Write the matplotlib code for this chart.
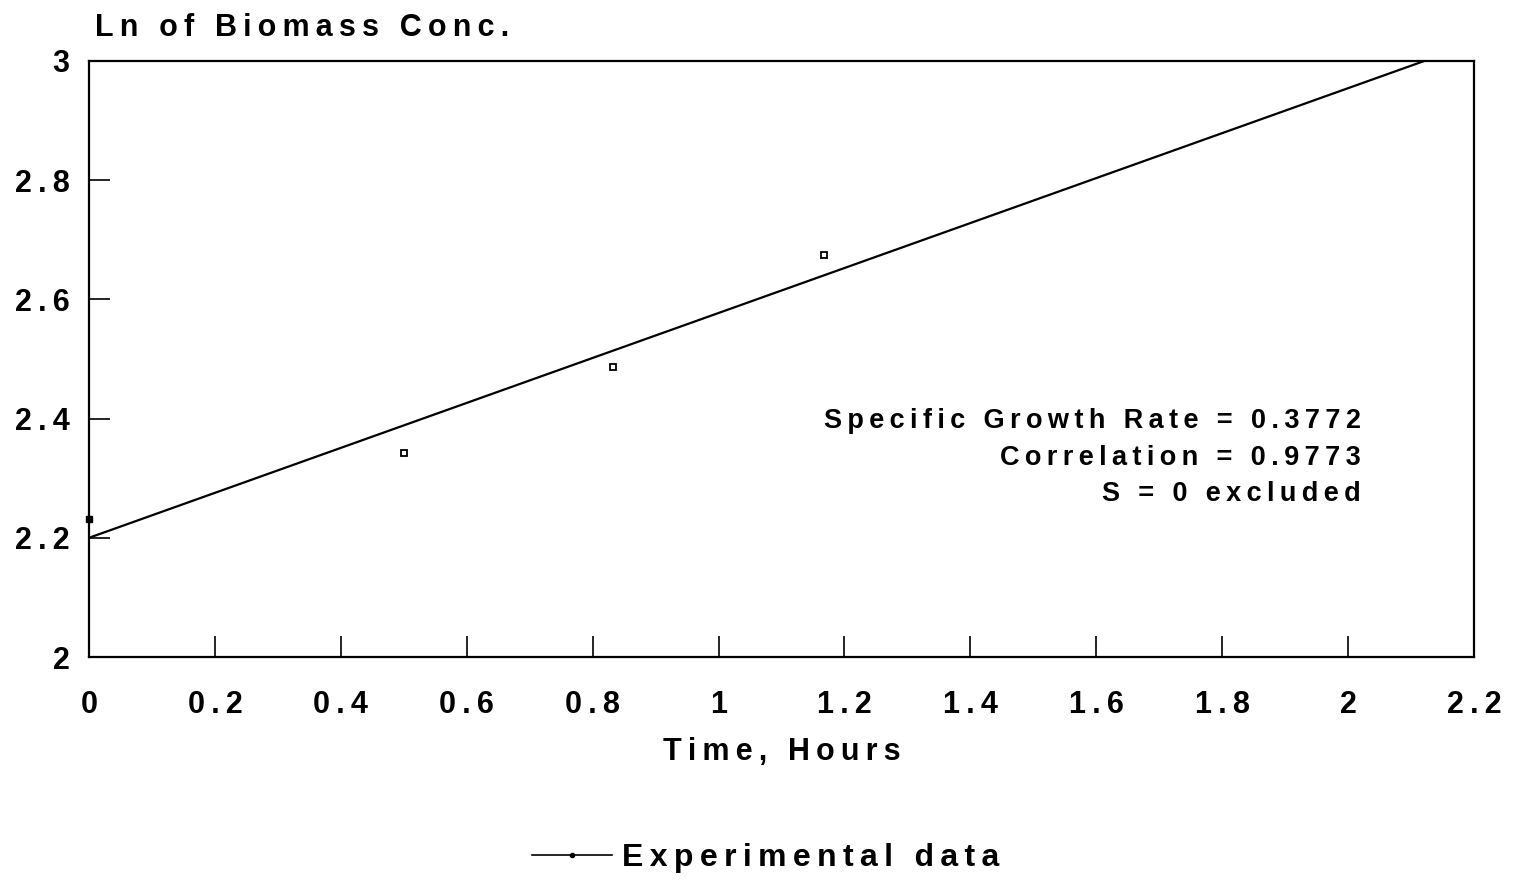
import matplotlib
matplotlib.use("Agg")
import matplotlib.pyplot as plt
from matplotlib.lines import Line2D

# experimental points (time in hours, ln of biomass conc.)
time_h = [0.0, 0.5, 0.833, 1.167]
ln_biomass = [2.231, 2.342, 2.487, 2.674]

# regression line
growth_rate = 0.3772
intercept = 2.200
correlation = 0.9773
fit_x = [0.0, 2.2]

xticks = [0, 0.2, 0.4, 0.6, 0.8, 1, 1.2, 1.4, 1.6, 1.8, 2, 2.2]
xtick_labels = ["0", "0.2", "0.4", "0.6", "0.8", "1", "1.2", "1.4", "1.6", "1.8", "2", "2.2"]
yticks = [2, 2.2, 2.4, 2.6, 2.8, 3]
ytick_labels = ["2", "2.2", "2.4", "2.6", "2.8", "3"]


def spaced(s):
    # old plotter fonts have wide letter spacing, fake it with thin spaces
    return "\u2009".join(s)


plt.rcParams['font.family'] = ['Liberation Sans', 'DejaVu Sans']
plt.rcParams['font.weight'] = 'bold'

fig = plt.figure(figsize=(15.19, 8.8), dpi=100)
ax = fig.add_axes([0.0586, 0.2534, 0.9118, 0.6773])

fit_y = [intercept + growth_rate * x for x in fit_x]
ax.plot(fit_x, fit_y, color='black', linewidth=1.6)

# first point sits on the axis and shows as a dot, rest are small open squares
ax.plot(time_h[:1], ln_biomass[:1], linestyle='none', marker='s', markersize=4,
        color='black', clip_on=False)
ax.plot(time_h[1:], ln_biomass[1:], linestyle='none', marker='s', markersize=4,
        markerfacecolor='white', markeredgecolor='black', markeredgewidth=1.3)

ax.set_xlim(0, 2.2)
ax.set_ylim(2, 3)
ax.set_xticks(xticks)
ax.set_xticklabels([spaced(t) for t in xtick_labels])
ax.set_yticks(yticks)
ax.set_yticklabels([spaced(t) for t in ytick_labels])
ax.tick_params(axis='x', direction='in', length=15, width=1.2, pad=24,
               labelsize=22, top=False)
ax.tick_params(axis='y', direction='in', length=15, width=1.2, pad=14,
               labelsize=22, right=False)
for s in ax.spines.values():
    s.set_linewidth(1.6)

ax.set_xlabel(spaced("Time, Hours"), fontsize=22, fontweight='bold', labelpad=12)
fig.text(0.0625, 0.968, spaced("Ln of Biomass Conc."), fontsize=22, fontweight='bold',
         ha='left', va='center')

ax.text(2.02, 2.396, spaced("Specific Growth Rate = %.4f" % growth_rate),
        fontsize=19.5, fontweight='bold', ha='right', va='center')
ax.text(2.02, 2.334, spaced("Correlation = %.4f" % correlation),
        fontsize=19.5, fontweight='bold', ha='right', va='center')
ax.text(2.02, 2.273, spaced("S = 0 excluded"),
        fontsize=19.5, fontweight='bold', ha='right', va='center')

handle = Line2D([], [], color='black', linewidth=1.2, marker='o', markersize=3)
fig.legend([handle], [spaced("Experimental data")], loc='center',
           bbox_to_anchor=(0.504, 0.025), frameon=False, handlelength=2.5,
           handletextpad=0.3, prop={'size': 23, 'weight': 'bold'})

fig.savefig("out.png", dpi=100)
